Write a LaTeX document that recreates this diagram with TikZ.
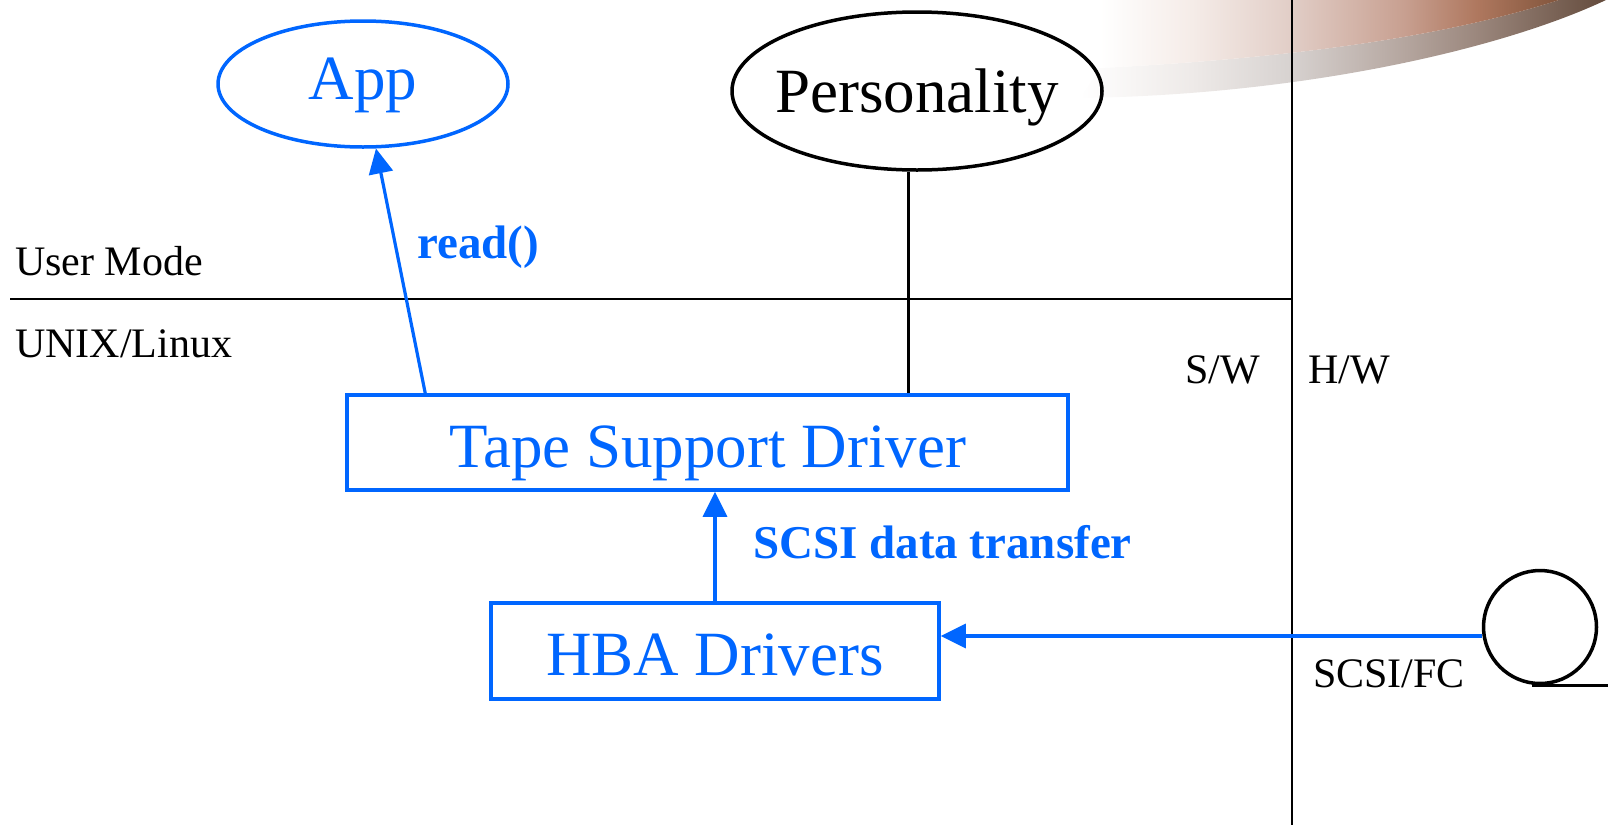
\documentclass[tikz,border=0pt]{standalone}
\usepackage{fontspec}
\setmainfont{Liberation Serif}
\usetikzlibrary{arrows.meta,shapes.geometric,calc}
\definecolor{myblue}{RGB}{0,102,255}
\definecolor{lowa}{RGB}{238,234,232}
\definecolor{lowb}{RGB}{215,210,208}
\definecolor{lowc}{RGB}{180,165,158}
\definecolor{lowd}{RGB}{155,135,125}
\definecolor{lowend}{RGB}{100,75,60}
\definecolor{upa}{RGB}{245,236,232}
\definecolor{upb}{RGB}{225,205,198}
\definecolor{upc}{RGB}{200,160,145}
\definecolor{upd}{RGB}{175,120,95}
\definecolor{upend}{RGB}{130,85,60}
\pgfdeclarehorizontalshading{lowband}{100bp}{color(0bp)=(white); color(25bp)=(white); color(35.6bp)=(lowa); color(45bp)=(lowb); color(56bp)=(lowc); color(62.7bp)=(lowd); color(75bp)=(lowend); color(100bp)=(lowend)}
\pgfdeclarehorizontalshading{upband}{100bp}{color(0bp)=(white); color(25bp)=(white); color(35bp)=(upa); color(46bp)=(upb); color(58bp)=(upc); color(66bp)=(upd); color(75bp)=(upend); color(100bp)=(upend)}
\tikzset{
  big/.style={font=\fontsize{63}{70}\selectfont},
  blueshape/.style={draw=myblue, line width=3.5pt, text=myblue, inner sep=0pt, big},
  lbl/.style={font=\fontsize{42}{48}\selectfont, anchor=base west, inner sep=0pt},
  blbl/.style={font=\bfseries\fontsize{47}{52}\selectfont, text=myblue, anchor=base west, inner sep=0pt},
  arr/.style={draw=myblue, line width=3.2pt, -{Triangle[length=25pt,width=24pt]}},
  thin/.style={draw=black, line width=2pt},
  blackline/.style={draw=black, line width=3pt}
}
\begin{document}
\begin{tikzpicture}[x=1pt,y=-1pt]
\useasboundingbox (0,0) rectangle (1608,825);
% swoosh
\shade[shading=lowband] (1080,98) .. controls (1300,95) and (1500,50) .. (1606,0)
  -- (1559,0) .. controls (1450,35) and (1300,58) .. (1100,68) -- cycle;
\shade[shading=upband] (1100,68) .. controls (1300,58) and (1450,35) .. (1559,0)
  -- (1100,0) -- cycle;
% dividers
\coordinate (hl) at (10,299);
\coordinate (hr) at (1292,299);
\coordinate (vt) at (1292,0);
\coordinate (vb) at (1292,825);
\draw[thin] (hl) -- (hr);
\draw[thin] (vt) -- (vb);
% nodes
\node[ellipse, blueshape, minimum width=290pt, minimum height=126pt, text height=30pt, text depth=0pt] (app) at (363,84) {App};
\node[ellipse, draw=black, line width=3.5pt, big, inner ysep=0pt, inner xsep=-20pt, minimum width=370pt, minimum height=158pt, text height=42pt, text depth=0pt] (pers) at (917,91) {Personality};
\node[rectangle, blueshape, minimum width=721pt, minimum height=95pt, text height=49pt, text depth=0pt] (tape) at (707.5,442.5) {Tape Support Driver};
\node[rectangle, blueshape, minimum width=448pt, minimum height=96pt, text height=48pt, text depth=0pt] (hba) at (715,651) {HBA Drivers};
\node[circle, draw=black, line width=3.5pt, minimum size=113pt, inner sep=0pt] (reel) at (1540,627) {};
% labels
\node[lbl] (um) at (15,275) {User Mode};
\node[lbl] (ux) at (15,357) {UNIX/Linux};
\node[lbl] (sw) at (1185,383) {S/W};
\node[lbl] (hw) at (1308,383) {H/W};
\node[lbl] (fc) at (1313,687) {SCSI/FC};
\node[blbl] (rd) at (417,258) {read()};
\node[blbl] (sdt) at (753,558) {SCSI data transfer};
% connectors
\coordinate (rs) at ($(tape.north west)+(80,0)$);
\draw[arr] (rs) -- (app);
\coordinate (pc) at (908,0);
\draw[blackline] (pers.south -| pc) -- (tape.north -| pc);
\draw[arr] (hba.north) -- (tape.south -| hba.north);
\coordinate (fcy) at (0,636);
\draw[arr] (reel.west |- fcy) -- (hba.east |- fcy);
\coordinate (edge) at (1608,0);
\draw[draw=black, line width=3.5pt] (reel.south) ++(-8,0) -- (reel.south -| edge);
\end{tikzpicture}
\end{document}
